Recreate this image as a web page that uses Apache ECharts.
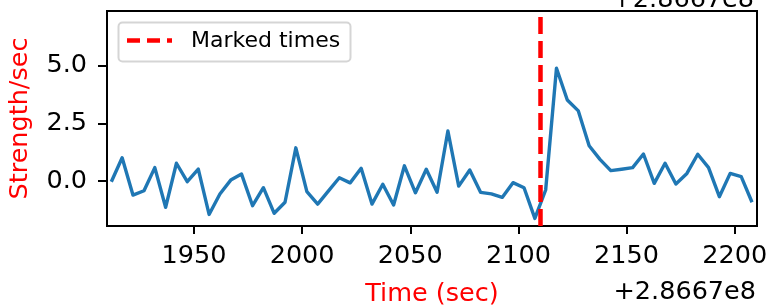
<!DOCTYPE html>
<html>
<head>
<meta charset="utf-8">
<script src="https://cdn.jsdelivr.net/npm/echarts@6/dist/echarts.min.js"></script>
<style>
  html, body { margin: 0; padding: 0; background: #fff; }
  #chart { width: 771px; height: 308px; }
</style>
</head>
<body>
<div id="chart"></div>
<script>
// time offsets (sec, + 2.8667e8) and strength values
const times = [1911.8, 1916.8, 1921.8, 1926.9, 1931.9, 1936.9, 1941.9, 1946.9, 1952.0, 1957.0,
               1962.0, 1967.0, 1972.0, 1977.1, 1982.1, 1987.1, 1992.1, 1997.1, 2002.2, 2007.2,
               2012.2, 2017.2, 2022.2, 2027.3, 2032.3, 2037.3, 2042.3, 2047.3, 2052.4, 2057.4,
               2062.4, 2067.4, 2072.4, 2077.5, 2082.5, 2087.5, 2092.5, 2097.5, 2102.6, 2107.6,
               2112.6, 2117.6, 2122.6, 2127.7, 2132.7, 2137.7, 2142.7, 2147.7, 2152.8, 2157.8,
               2162.8, 2167.8, 2172.8, 2177.9, 2182.9, 2187.9, 2192.9, 2197.9, 2203.0, 2208.0];
const strength = [-0.03, 1.01, -0.61, -0.42, 0.58, -1.14, 0.77, -0.03, 0.52, -1.45,
                  -0.56, 0.04, 0.30, -1.07, -0.29, -1.40, -0.92, 1.44, -0.46, -1.00,
                  -0.43, 0.14, -0.08, 0.55, -1.00, -0.14, -1.04, 0.66, -0.51, 0.51,
                  -0.49, 2.17, -0.22, 0.48, -0.49, -0.56, -0.71, -0.07, -0.29, -1.62,
                  -0.39, 4.89, 3.51, 3.04, 1.53, 0.94, 0.45, 0.51, 0.58, 1.17,
                  -0.10, 0.77, -0.13, 0.33, 1.16, 0.58, -0.68, 0.33, 0.19, -0.92];
const markedTimes = [2110.0];
const xTicks = [1950, 2000, 2050, 2100, 2150, 2200];
const yTicks = [0, 2.5, 5];
const offsetLabel = '+2.8667e8';

const FONT = 'DejaVu Sans';
const chart = echarts.init(document.getElementById('chart'), null, { renderer: 'canvas' });

const option = {
    animation: false,
    backgroundColor: '#fff',
    textStyle: { fontFamily: FONT },
    grid: {
        left: 107, right: 14, top: 11, bottom: 82,
        outerBoundsMode: 'none',
        containLabel: false,
        show: true, borderColor: '#000', borderWidth: 2
    },
    xAxis: {
        type: 'value',
        min: 1909.8, max: 2210.3,
        name: 'Time (sec)',
        nameLocation: 'middle',
        nameGap: 55,
        nameTextStyle: { color: 'red', fontSize: 25.5, fontFamily: FONT },
        axisLine: { show: true, onZero: false, lineStyle: { color: '#000', width: 2 } },
        axisTick: { show: true, inside: false, length: 8, lineStyle: { color: '#000', width: 2 }, customValues: xTicks },
        axisLabel: {
            color: '#000', fontSize: 25.5, fontFamily: FONT, margin: 17,
            customValues: xTicks,
            formatter: v => String(Math.round(v))
        },
        splitLine: { show: false }
    },
    yAxis: {
        type: 'value',
        min: -1.95, max: 7.37,
        name: 'Strength/sec',
        nameLocation: 'middle',
        nameRotate: 90,
        nameGap: 74,
        nameTextStyle: { color: 'red', fontSize: 25.5, fontFamily: FONT },
        axisLine: { show: true, onZero: false, lineStyle: { color: '#000', width: 2 } },
        axisTick: { show: true, inside: false, length: 9, lineStyle: { color: '#000', width: 2 }, customValues: yTicks },
        axisLabel: {
            color: '#000', fontSize: 25.5, fontFamily: FONT, margin: 20,
            customValues: yTicks,
            formatter: v => v.toFixed(1)
        },
        splitLine: { show: false }
    },
    series: [
        {
            name: 'Strength',
            type: 'line',
            data: times.map((t, i) => [t, strength[i]]),
            showSymbol: false,
            lineStyle: { color: '#1f77b4', width: 3.4, join: 'round' },
            z: 2
        },
        {
            name: 'Marked times',
            type: 'line',
            data: [],
            markLine: {
                silent: true,
                symbol: 'none',
                label: { show: false },
                lineStyle: { color: 'red', type: [17, 7], width: 4.5 },
                data: markedTimes.map(t => ({ xAxis: t }))
            },
            z: 3
        }
    ],
    graphic: [
        // legend box
        {
            type: 'rect', z: 10,
            shape: { x: 118.5, y: 22.5, width: 232, height: 39, r: 4 },
            style: { fill: 'rgba(255,255,255,0.8)', stroke: '#d5d5d5', lineWidth: 2 }
        },
        {
            type: 'line', z: 11,
            shape: { x1: 127, y1: 40.5, x2: 172, y2: 40.5 },
            style: { stroke: 'red', lineWidth: 4.5, lineDash: [13, 7] }
        },
        {
            type: 'text', z: 11, x: 191, y: 41,
            style: { text: 'Marked times', fill: '#000', font: '22px "DejaVu Sans"', textVerticalAlign: 'middle' }
        },
        // offset texts
        {
            type: 'text', z: 11, x: 756, y: 292,
            style: { text: offsetLabel, fill: '#000', font: '25.5px "DejaVu Sans"', textAlign: 'right', textVerticalAlign: 'middle' }
        },
        {
            type: 'text', z: 11, x: 754, y: 0,
            style: { text: offsetLabel, fill: '#000', font: '25.5px "DejaVu Sans"', textAlign: 'right', textVerticalAlign: 'middle' }
        }
    ]
};

chart.setOption(option);
window.addEventListener('resize', () => chart.resize());
</script>
</body>
</html>
